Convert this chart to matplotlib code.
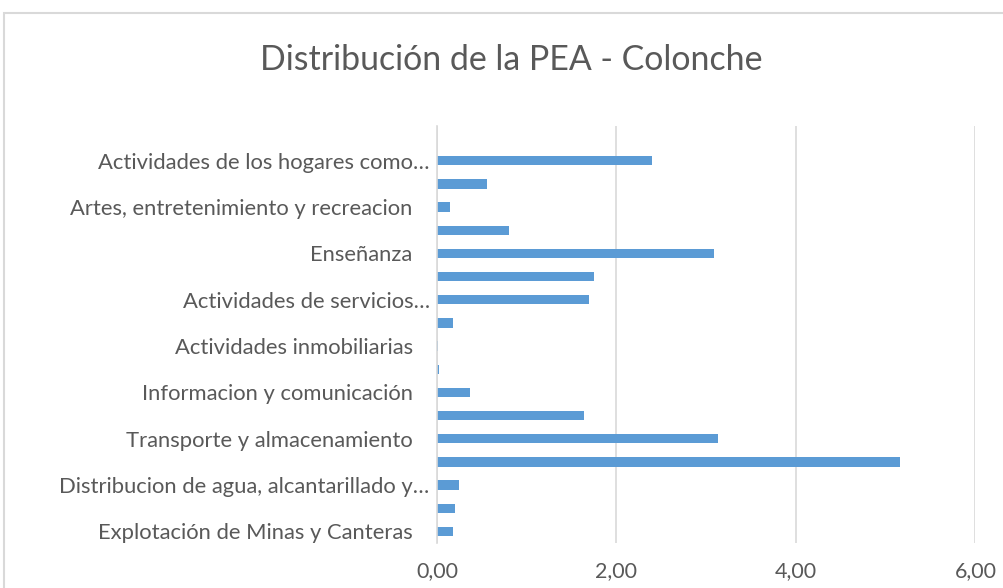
import matplotlib
matplotlib.use('Agg')
import matplotlib.pyplot as plt
import matplotlib.transforms as mtransforms
from matplotlib.patches import Rectangle
import numpy as np

# Ramas de actividad (de abajo hacia arriba) y porcentaje de la PEA
ramas = [
    'Explotación de Minas y Canteras',
    'Suministro de electricidad, gas y aire acondicionado',
    'Distribucion de agua, alcantarillado y gestion de desechos',
    'Comercio al por mayor y menor',
    'Transporte y almacenamiento',
    'Actividades de alojamiento y servicio de comidas',
    'Informacion y comunicación',
    'Actividades financieras y de seguros',
    'Actividades inmobiliarias',
    'Actividades profesionales, cientificas y tecnicas',
    'Actividades de servicios administrativos y de apoyo',
    'Administracion publica y defensa',
    'Enseñanza',
    'Actividades de la atencion de la salud humana',
    'Artes, entretenimiento y recreacion',
    'Otras actividades de servicios',
    'Actividades de los hogares como empleadores',
    'No declarado',
]
porcentaje = [0.18, 0.20, 0.25, 5.16, 3.13, 1.64, 0.37, 0.02, 0.01, 0.18,
              1.69, 1.75, 3.09, 0.80, 0.15, 0.56, 2.39, 0.0]

# etiquetas del eje (solo una de cada dos, recortadas como en Excel)
etiquetas = [
    'Explotación de Minas y Canteras', '',
    'Distribucion de agua, alcantarillado y…', '',
    'Transporte y almacenamiento', '',
    'Informacion y comunicación', '',
    'Actividades inmobiliarias', '',
    'Actividades de servicios…', '',
    'Enseñanza', '',
    'Artes, entretenimiento y recreacion', '',
    'Actividades de los hogares como…', '',
]
ticks_x = [0, 2, 4, 6]

gris = '#595959'
plt.rcParams['font.family'] = ['Lato', 'DejaVu Sans']

fig = plt.figure(figsize=(10.04, 5.88), dpi=100)

# marco del grafico
fig.patches.append(Rectangle((4 / 1004, -0.2), 1.2, 1.2 - 13 / 588,
                             transform=fig.transFigure, fill=False,
                             edgecolor='#D9D9D9', linewidth=1.5))

ax = fig.add_axes([437 / 1004, 1 - 543 / 588, (975.5 - 437) / 1004, 417 / 588])
y = np.arange(len(ramas))
ax.barh(y, porcentaje, height=0.4, color='#5B9BD5', zorder=3)

ax.set_xlim(0, 6)
ax.set_ylim(-0.5, len(ramas) - 0.5)
ax.set_xticks(ticks_x)
ax.set_xticklabels(['{:.2f}'.format(t).replace('.', ',') for t in ticks_x],
                   fontsize=15.5, color=gris)
ax.set_yticks(y)
ax.set_yticklabels(etiquetas, fontsize=15.8, color=gris)
ax.tick_params(axis='both', length=0)
ax.tick_params(axis='x', pad=13)
ax.tick_params(axis='y', pad=17.5)

# las etiquetas recortadas quedan mas cerca del eje
for lbl in ax.get_yticklabels():
    if lbl.get_text().endswith('…'):
        lbl.set_transform(lbl.get_transform() +
                          mtransforms.ScaledTranslation(17 / 100, 0, fig.dpi_scale_trans))

ax.grid(axis='x', color='#D9D9D9', linewidth=1.2, zorder=0)
for s in ['top', 'right', 'bottom']:
    ax.spines[s].set_visible(False)
ax.spines['left'].set_color('#D9D9D9')
ax.spines['left'].set_linewidth(1.2)
ax.spines['left'].set_zorder(4)

fig.text(511 / 1004, 1 - 60 / 588, 'Distribución de la PEA - Colonche',
         ha='center', va='center', fontsize=24.4, color=gris)

fig.savefig('out.png', dpi=100)
